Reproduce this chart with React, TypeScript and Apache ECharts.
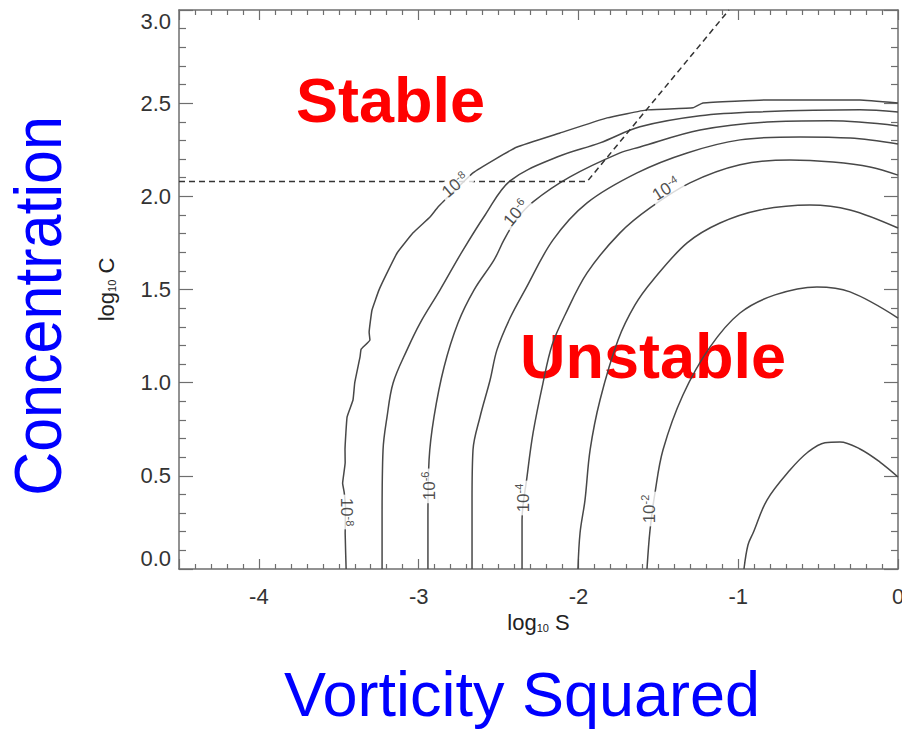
import React, { useEffect, useRef } from "react";
import * as echarts from "echarts";

// ---------- data (log10 S, log10 C) ----------
const xRange = [-4.5, 0];
const yRange = [0, 3];

const level1e8: number[][] = [
  [-3.454, 0], [-3.46, 0.19], [-3.458, 0.33], [-3.466, 0.41], [-3.476, 0.46], [-3.46, 0.57],
  [-3.461, 0.64], [-3.448, 0.816], [-3.411, 0.907], [-3.4, 1.0], [-3.367, 1.138], [-3.36, 1.18],
  [-3.305, 1.229], [-3.31, 1.27], [-3.292, 1.39], [-3.248, 1.498], [-3.198, 1.589], [-3.135, 1.696],
  [-3.035, 1.804], [-2.929, 1.889], [-2.879, 1.943], [-2.772, 2.034], [-2.66, 2.126], [-2.52, 2.2],
  [-2.384, 2.265], [-2.115, 2.34], [-1.821, 2.421], [-1.571, 2.464], [-1.283, 2.475], [-1.221, 2.501],
  [-0.82, 2.517], [-0.238, 2.517], [0, 2.501],
];
const level1e7: number[][] = [
  [-3.229, 0], [-3.229, 0.279], [-3.223, 0.639], [-3.198, 0.816], [-3.16, 0.998], [-3.073, 1.176],
  [-2.991, 1.32], [-2.866, 1.498], [-2.729, 1.702], [-2.584, 1.9], [-2.428, 2.083], [-2.134, 2.211],
  [-1.865, 2.287], [-1.615, 2.373], [-1.239, 2.432], [-0.864, 2.453], [-0.238, 2.464], [0, 2.453],
];
const level1e6: number[][] = [
  [-2.942, 0], [-2.942, 0.263], [-2.935, 0.585], [-2.904, 0.816], [-2.841, 1.084], [-2.754, 1.32],
  [-2.653, 1.498], [-2.528, 1.659], [-2.466, 1.766], [-2.391, 1.873], [-2.284, 1.97], [-2.053, 2.104],
  [-1.74, 2.233], [-1.615, 2.265], [-1.239, 2.356], [-0.82, 2.399], [-0.426, 2.405], [0, 2.378],
];
const level1e5: number[][] = [
  [-2.666, 0], [-2.666, 0.37], [-2.66, 0.639], [-2.616, 0.816], [-2.553, 1.014], [-2.51, 1.176],
  [-2.428, 1.347], [-2.334, 1.498], [-2.159, 1.766], [-1.946, 1.965], [-1.633, 2.126], [-1.32, 2.233],
  [-0.989, 2.303], [-0.613, 2.319], [-0.3, 2.313], [0, 2.281],
];
const level1e4: number[][] = [
  [-2.353, 0], [-2.353, 0.263], [-2.322, 0.494], [-2.284, 0.73], [-2.222, 0.998], [-2.165, 1.202],
  [-2.084, 1.363], [-1.946, 1.589], [-1.74, 1.804], [-1.552, 1.938], [-1.302, 2.072], [-0.989, 2.169],
  [-0.676, 2.195], [-0.407, 2.184], [-0.175, 2.158], [0, 2.114],
];
const level1e3: number[][] = [
  [-2.003, 0], [-1.99, 0.193], [-1.959, 0.37], [-1.927, 0.639], [-1.865, 0.907], [-1.752, 1.229],
  [-1.646, 1.417], [-1.533, 1.551], [-1.32, 1.75], [-1.114, 1.857], [-0.864, 1.927], [-0.551, 1.954],
  [-0.3, 1.927], [0, 1.83],
];
const level1e2: number[][] = [
  [-1.571, 0], [-1.552, 0.209], [-1.521, 0.408], [-1.471, 0.639], [-1.346, 0.934], [-1.176, 1.192],
  [-0.989, 1.374], [-0.77, 1.471], [-0.507, 1.514], [-0.3, 1.487], [0, 1.347],
];
const level1e1: number[][] = [
  [-0.964, 0], [-0.939, 0.129], [-0.907, 0.193], [-0.82, 0.37], [-0.676, 0.531], [-0.563, 0.628],
  [-0.457, 0.678], [-0.363, 0.682], [-0.238, 0.644], [-0.113, 0.574], [0, 0.494],
];
const thresholdLine: number[][] = [[-4.5, 2.079], [-1.946, 2.079], [-1.058, 3.0]];

const labelExponents = ["-8", "-6", "-4", "-2", "-8", "-6", "-4"];
const labelPositions: number[][] = [
  [-3.454, 0.306], [-2.935, 0.446], [-2.347, 0.381], [-1.558, 0.322],
  [-2.772, 2.061], [-2.391, 1.911], [-1.452, 2.04],
];
const labelAngles = [-90, 90, 90, 90, 40, 50, 32];

const contourLevels = [level1e8, level1e7, level1e6, level1e5, level1e4, level1e3, level1e2, level1e1];

// ---------- styling ----------
const FONT = '"Liberation Sans", Arial, Helvetica, sans-serif';
const AXIS_COLOR = "#6e6e6e";
const LINE_COLOR = "#484848";

export default function App() {
  const ref = useRef<HTMLDivElement>(null);

  useEffect(() => {
    if (!ref.current) return;
    const chart = echarts.init(ref.current, undefined, { renderer: "svg" });

    const baseX = {
      type: "value" as const,
      min: xRange[0],
      max: xRange[1],
      splitLine: { show: false },
      axisLine: { show: true, onZero: false, lineStyle: { color: AXIS_COLOR, width: 1.5 } },
      axisTick: { show: true, inside: true, length: 10, lineStyle: { color: AXIS_COLOR, width: 1.2 } },
      minorTick: { show: true, splitNumber: 10, length: 5, lineStyle: { color: AXIS_COLOR, width: 1.2 } },
      minorSplitLine: { show: false },
    };
    const baseY = {
      type: "value" as const,
      min: yRange[0],
      max: yRange[1],
      interval: 0.5,
      splitLine: { show: false },
      axisLine: { show: true, onZero: false, lineStyle: { color: AXIS_COLOR, width: 1.5 } },
      axisTick: { show: true, inside: true, length: 14, lineStyle: { color: AXIS_COLOR, width: 1.2 } },
      minorTick: { show: true, splitNumber: 5, length: 7, lineStyle: { color: AXIS_COLOR, width: 1.2 } },
      minorSplitLine: { show: false },
    };

    const nameRich = {
      a: { fontSize: 22, fontFamily: FONT, color: "#222" },
      s: { fontSize: 11, fontFamily: FONT, color: "#222", verticalAlign: "bottom", lineHeight: 12 },
    };

    const lineSeries = contourLevels.map((d, i) => ({
      type: "line",
      data: d,
      showSymbol: false,
      symbol: "none",
      smooth: i === 0 ? 0.1 : 0.35,
      lineStyle: { color: LINE_COLOR, width: 1.5 },
      silent: true,
      z: 2,
      animation: false,
    }));

    const labelRich = {
      n: { fontSize: 17, fontFamily: FONT, color: "#222", lineHeight: 19 },
      s: { fontSize: 11, fontFamily: FONT, color: "#222", verticalAlign: "top", lineHeight: 11 },
    };

    const option: any = {
      animation: false,
      grid: { left: 179, right: 4, top: 10, bottom: 160, containLabel: false, outerBoundsMode: "none" },
      xAxis: [
        {
          ...baseX,
          position: "bottom",
          axisLabel: {
            show: true,
            fontSize: 22,
            fontFamily: FONT,
            color: "#333",
            margin: 16,
            formatter: (v: number) => (Number.isInteger(v) ? String(v) : ""),
          },
          name: "{a|log}{s|10}{a| S}",
          nameLocation: "middle",
          nameGap: 42,
          nameTextStyle: { rich: nameRich },
        },
        { ...baseX, position: "top", axisLabel: { show: false } },
      ],
      yAxis: [
        {
          ...baseY,
          position: "left",
          axisLabel: {
            show: true,
            fontSize: 22,
            fontFamily: FONT,
            color: "#333",
            margin: 8,
            formatter: (v: number) => v.toFixed(1),
            verticalAlignMinLabel: "bottom",
            verticalAlignMaxLabel: "top",
          },
          name: "{a|log}{s|10}{a| C}",
          nameLocation: "middle",
          nameGap: 62,
          nameRotate: 90,
          nameTextStyle: { rich: nameRich },
        },
        { ...baseY, position: "right", axisLabel: { show: false } },
      ],
      series: [
        ...lineSeries,
        {
          type: "line",
          data: thresholdLine,
          showSymbol: false,
          symbol: "none",
          lineStyle: { color: "#333", width: 1.5, type: [6, 4] },
          silent: true,
          z: 2,
        },
        {
          type: "scatter",
          symbolSize: 1,
          itemStyle: { color: "rgba(0,0,0,0)" },
          silent: true,
          z: 5,
          data: labelPositions.map((p, i) => ({
            value: p,
            label: {
              show: true,
              position: "inside",
              rotate: labelAngles[i],
              formatter: `{n|10}{s|${labelExponents[i]}}`,
              backgroundColor: "#ffffff",
              padding: [0, 3, 0, 3],
              rich: labelRich,
            },
          })),
        },
      ],
      graphic: [
        {
          type: "text",
          x: 296,
          y: 100,
          silent: true,
          style: {
            text: "Stable",
            fill: "#ff0000",
            font: `bold 63px ${FONT}`,
            textAlign: "left",
            textVerticalAlign: "middle",
            align: "left",
            verticalAlign: "middle",
          },
        },
        {
          type: "text",
          x: 520,
          y: 356,
          silent: true,
          style: {
            text: "Unstable",
            fill: "#ff0000",
            font: `bold 63px ${FONT}`,
            textAlign: "left",
            textVerticalAlign: "middle",
            align: "left",
            verticalAlign: "middle",
          },
        },
        {
          type: "text",
          x: 38,
          y: 306,
          rotation: Math.PI / 2,
          scaleY: 1.1,
          silent: true,
          style: {
            text: "Concentration",
            fill: "#0000ff",
            font: `61px ${FONT}`,
            textAlign: "center",
            textVerticalAlign: "middle",
            align: "center",
            verticalAlign: "middle",
          },
        },
        {
          type: "text",
          x: 522,
          y: 694,
          silent: true,
          style: {
            text: "Vorticity Squared",
            fill: "#0000ff",
            font: `63px ${FONT}`,
            textAlign: "center",
            textVerticalAlign: "middle",
            align: "center",
            verticalAlign: "middle",
          },
        },
      ],
    };

    chart.setOption(option);
    return () => chart.dispose();
  }, []);

  return (
    <div
      ref={ref}
      style={{ position: "absolute", left: 0, top: 0, width: 902, height: 729, background: "#fff" }}
    />
  );
}
